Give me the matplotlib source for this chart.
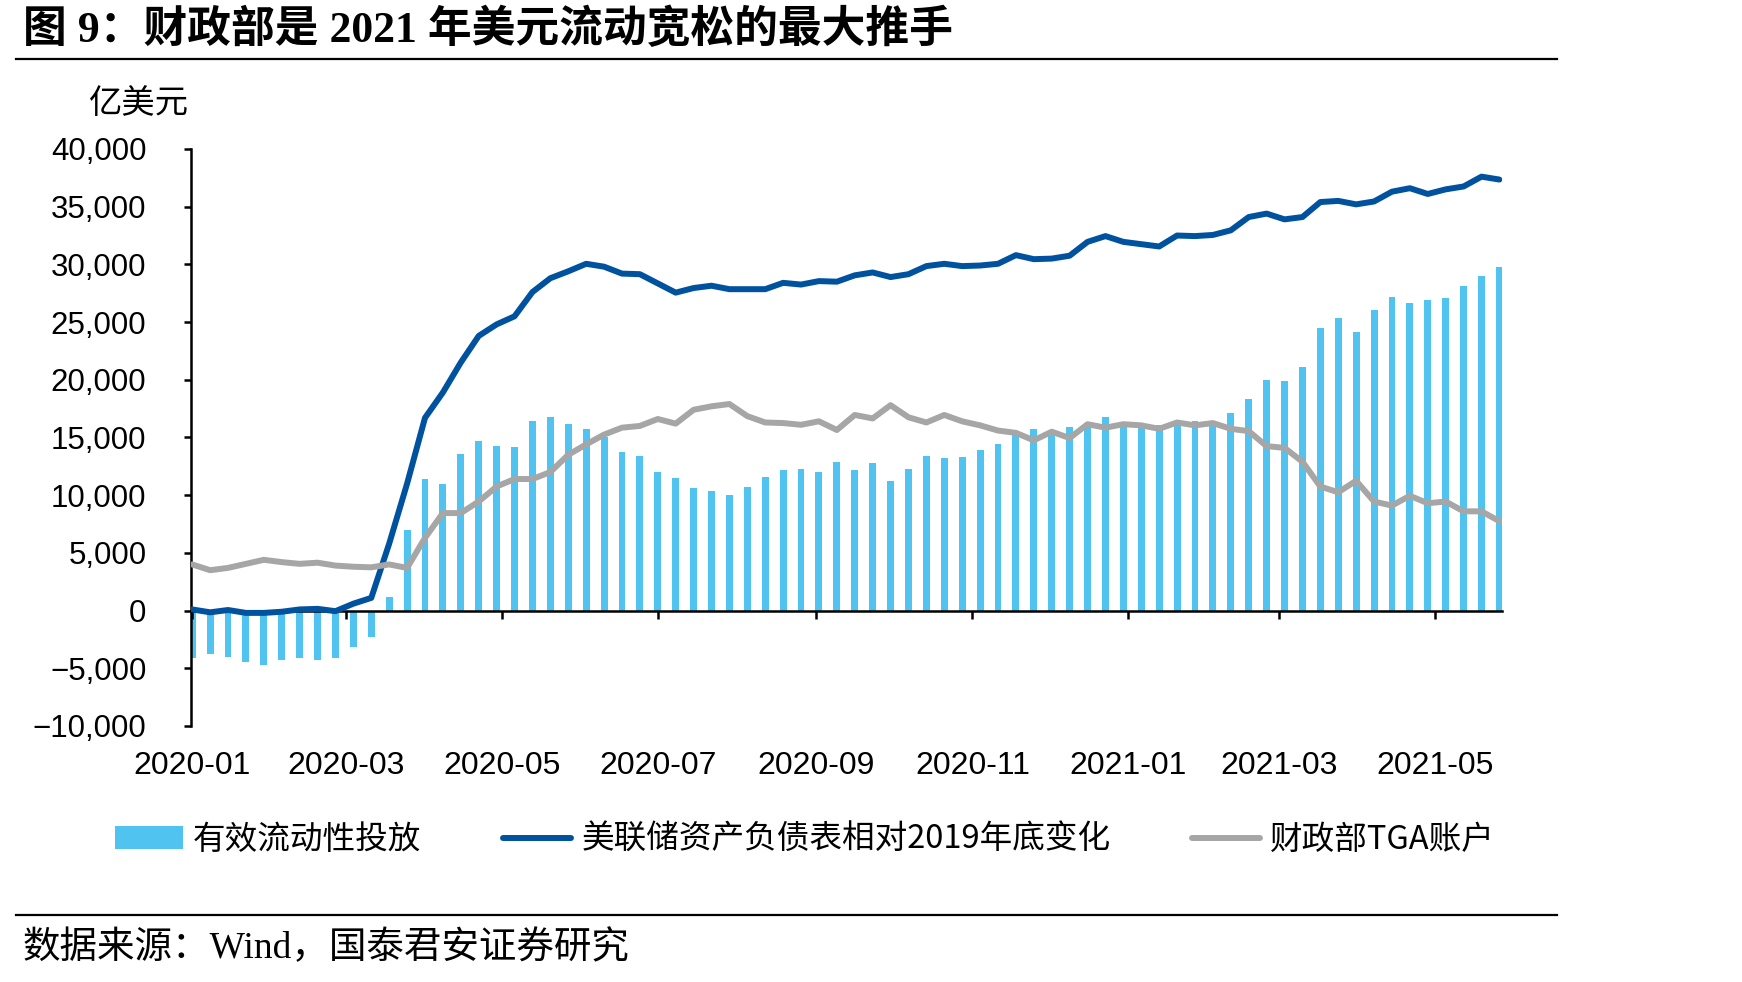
import numpy as np
import pandas as pd
import matplotlib
matplotlib.use("Agg")
import matplotlib.pyplot as plt
import matplotlib.dates as mdates
from matplotlib.ticker import FuncFormatter, MultipleLocator
from matplotlib.lines import Line2D

plt.rcParams['font.family'] = ['Liberation Sans', 'Noto Sans CJK SC']

# weekly (Wednesday) observations, 2020-01-01 .. 2021-05-26, unit: 亿美元
dates = pd.date_range('2020-01-01', periods=74, freq='7D')

liquidity = [
    -4100, -3800, -4000, -4450, -4750, -4300, -4100, -4300, -4150, -3150,
    -2300, 1150, 7000, 11400, 11000, 13600, 14700, 14300, 14200, 16400,
    16800, 16200, 15700, 15000, 13750, 13400, 12050, 11450, 10600, 10350,
    10000, 10700, 11600, 12200, 12300, 12050, 12900, 12200, 12750, 11200,
    12300, 13400, 13200, 13300, 13900, 14400, 15200, 15750, 15300, 15900,
    16050, 16750, 16050, 15900, 16050, 16250, 16450, 16250, 17150, 18300,
    20000, 19900, 21150, 24500, 25350, 24100, 26050, 27150, 26650, 26900,
    27100, 28150, 29000, 29750,
]

fed_change = [
    100, -150, 50, -200, -200, -100, 100, 150, -50, 600,
    1100, 5800, 11000, 16700, 18900, 21500, 23800, 24800, 25500, 27600,
    28800, 29400, 30050, 29800, 29200, 29150, 28350, 27550, 27950, 28150,
    27850, 27850, 27850, 28400, 28250, 28550, 28500, 29050, 29300, 28900,
    29150, 29850, 30050, 29850, 29900, 30050, 30800, 30450, 30500, 30750,
    31950, 32450, 31950, 31750, 31550, 32500, 32450, 32550, 32950, 34100,
    34400, 33900, 34100, 35400, 35500, 35200, 35450, 36300, 36600, 36100,
    36500, 36750, 37600, 37350,
]

tga = [
    4000, 3500, 3700, 4050, 4400, 4200, 4050, 4150, 3900, 3800,
    3750, 4000, 3700, 6300, 8450, 8450, 9450, 10750, 11400, 11400,
    12000, 13500, 14400, 15250, 15850, 16000, 16600, 16200, 17400, 17700,
    17900, 16850, 16300, 16250, 16100, 16400, 15650, 16950, 16650, 17800,
    16750, 16300, 16950, 16400, 16050, 15600, 15400, 14750, 15500, 14950,
    16150, 15850, 16150, 16050, 15750, 16300, 16050, 16250, 15750, 15550,
    14250, 14100, 12900, 10750, 10250, 11250, 9450, 9100, 9950, 9300,
    9450, 8600, 8600, 7750,
]

labels = ['有效流动性投放', '美联储资产负债表相对2019年底变化', '财政部TGA账户']

bar_color = '#50C3F1'
navy = '#00529F'
grey = '#A6A6A6'

fig = plt.figure(figsize=(17.42, 9.82), dpi=100)
ax = fig.add_axes([0.1096, 0.2607, 0.7526, 0.5876])

bars = ax.bar(dates, liquidity, width=2.7, color=bar_color, zorder=1, label=labels[0])
l_fed, = ax.plot(dates, fed_change, color=navy, lw=4.3, zorder=3,
                 solid_joinstyle='round', solid_capstyle='round', label=labels[1])
l_tga, = ax.plot(dates, tga, color=grey, lw=4.3, zorder=3.5,
                 solid_joinstyle='round', solid_capstyle='round', label=labels[2])

ax.set_ylim(-10000, 40000)
ax.set_xlim(dates[0] - pd.Timedelta(days=0.5), dates[0] + pd.Timedelta(days=512))
ax.yaxis.set_major_locator(MultipleLocator(5000))
ax.yaxis.set_major_formatter(FuncFormatter(lambda v, p: f"{v:,.0f}".replace('-', '−')))
ax.xaxis.set_major_locator(mdates.MonthLocator(bymonth=[1, 3, 5, 7, 9, 11]))
ax.xaxis.set_major_formatter(mdates.DateFormatter('%Y-%m'))

for s in ['top', 'right']:
    ax.spines[s].set_visible(False)
ax.spines['bottom'].set_position(('data', 0))
ax.spines['bottom'].set_zorder(2.5)
for s in ['left', 'bottom']:
    ax.spines[s].set_linewidth(1.8)
    ax.spines[s].set_color('black')

ax.tick_params(axis='y', direction='out', length=5, width=1.8, pad=27,
               labelsize=22.5, colors='black')
ax.tick_params(axis='x', direction='out', length=6, width=1.8, pad=95,
               labelsize=23, colors='black')

fig.text(0.051, 0.895, '亿美元', fontsize=24, ha='left', va='center',
         family=['Noto Sans CJK SC'])

leg = fig.legend(handles=[bars, l_fed, l_tga], labels=labels,
                 loc='center', bbox_to_anchor=(0.462, 0.1446), ncol=3, frameon=False,
                 handlelength=2.1, handletextpad=0.3, columnspacing=2.5,
                 prop={'family': ['Noto Sans CJK SC'], 'size': 23.5})

# title, rules and source
fig.text(0.013, 0.970, '图 9：财政部是 2021 年美元流动宽松的最大推手', fontsize=31.5,
         fontweight='bold', ha='left', va='center',
         family=['Liberation Serif', 'Noto Sans CJK SC'])
fig.add_artist(Line2D([0.009, 0.894], [0.940, 0.940], color='black', lw=1.6))
fig.add_artist(Line2D([0.009, 0.894], [0.068, 0.068], color='black', lw=1.6))
fig.text(0.013, 0.0346, '数据来源：Wind，国泰君安证券研究', fontsize=27,
         ha='left', va='center', family=['Liberation Serif', 'Noto Sans CJK SC'])

fig.savefig('out.png', dpi=100)
